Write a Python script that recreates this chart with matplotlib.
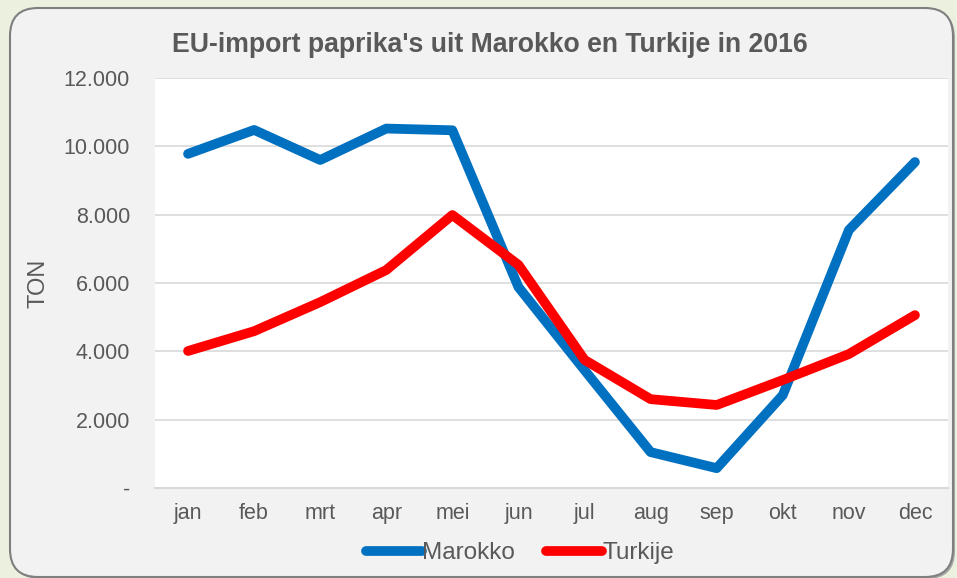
import matplotlib.pyplot as plt
from matplotlib.patches import FancyBboxPatch
from matplotlib.ticker import FuncFormatter

maanden = ['jan', 'feb', 'mrt', 'apr', 'mei', 'jun', 'jul', 'aug', 'sep', 'okt', 'nov', 'dec']
marokko = [9780, 10480, 9600, 10520, 10470, 5880, 3450, 1050, 580, 2720, 7550, 9540]
turkije = [4010, 4590, 5440, 6380, 7990, 6530, 3750, 2600, 2430, 3160, 3920, 5060]

plt.rcParams['font.family'] = ['Liberation Sans', 'DejaVu Sans']
grijs = '#595959'

fig = plt.figure(figsize=(9.57, 5.78), dpi=100)
fig.patch.set_facecolor('#EBF1DE')

# paneel met afgeronde hoeken + schaduw
W, H = 957, 578
x0, y0, x1, y1 = 10 / W, 1 - 577 / H, 953 / W, 1 - 8 / H
schaduw = FancyBboxPatch((x0 + 2 / W, y0 - 2 / H), x1 - x0, y1 - y0,
                         boxstyle='round,pad=0,rounding_size=%f' % (28 / W),
                         mutation_aspect=W / H, transform=fig.transFigure,
                         facecolor='#A6A6A6', edgecolor='none', zorder=0)
paneel = FancyBboxPatch((x0, y0), x1 - x0, y1 - y0,
                        boxstyle='round,pad=0,rounding_size=%f' % (28 / W),
                        mutation_aspect=W / H, transform=fig.transFigure,
                        facecolor='#F2F2F2', edgecolor='#7F7F7F', linewidth=1.5, zorder=0)
fig.patches.append(schaduw)
fig.patches.append(paneel)

ax = fig.add_axes([155 / W, 90 / H, (948 - 155) / W, (488 - 78) / H])
ax.set_zorder(2)
ax.set_facecolor('white')

ax.plot(maanden, marokko, color='#0070C0', lw=7, solid_capstyle='round', label='Marokko', zorder=3)
ax.plot(maanden, turkije, color='#FF0000', lw=7, solid_capstyle='round', label='Turkije', zorder=3)

ax.set_xlim(-0.5, 11.5)
ax.set_ylim(0, 12000)
ax.set_yticks(range(0, 12001, 2000))
ax.yaxis.set_major_formatter(FuncFormatter(lambda v, p: '-' if v == 0 else f'{int(v):,}'.replace(',', '.')))
ax.grid(axis='y', color='#D9D9D9', lw=1.2)
ax.set_axisbelow(True)
for s in ['top', 'right', 'left']:
    ax.spines[s].set_visible(False)
ax.spines['bottom'].set_color('#D9D9D9')
ax.spines['bottom'].set_linewidth(1.5)
ax.tick_params(axis='both', length=0, labelsize=15.5, colors=grijs)
ax.tick_params(axis='y', pad=18)
ax.tick_params(axis='x', pad=11)

ax.set_ylabel('TON', fontsize=17, color=grijs, labelpad=10)
fig.text(0.512, 1 - 45 / H, "EU-import paprika's uit Marokko en Turkije in 2016",
         ha='center', va='center', fontsize=19.2, fontweight='bold', color=grijs)

fig.legend(loc='center', bbox_to_anchor=(520 / W, 1 - 553 / H), ncol=2, frameon=False,
           fontsize=17.5, handlelength=2.3, handletextpad=0.0, columnspacing=1.3, labelcolor=grijs)

plt.savefig('out.png', dpi=100, facecolor=fig.get_facecolor())
